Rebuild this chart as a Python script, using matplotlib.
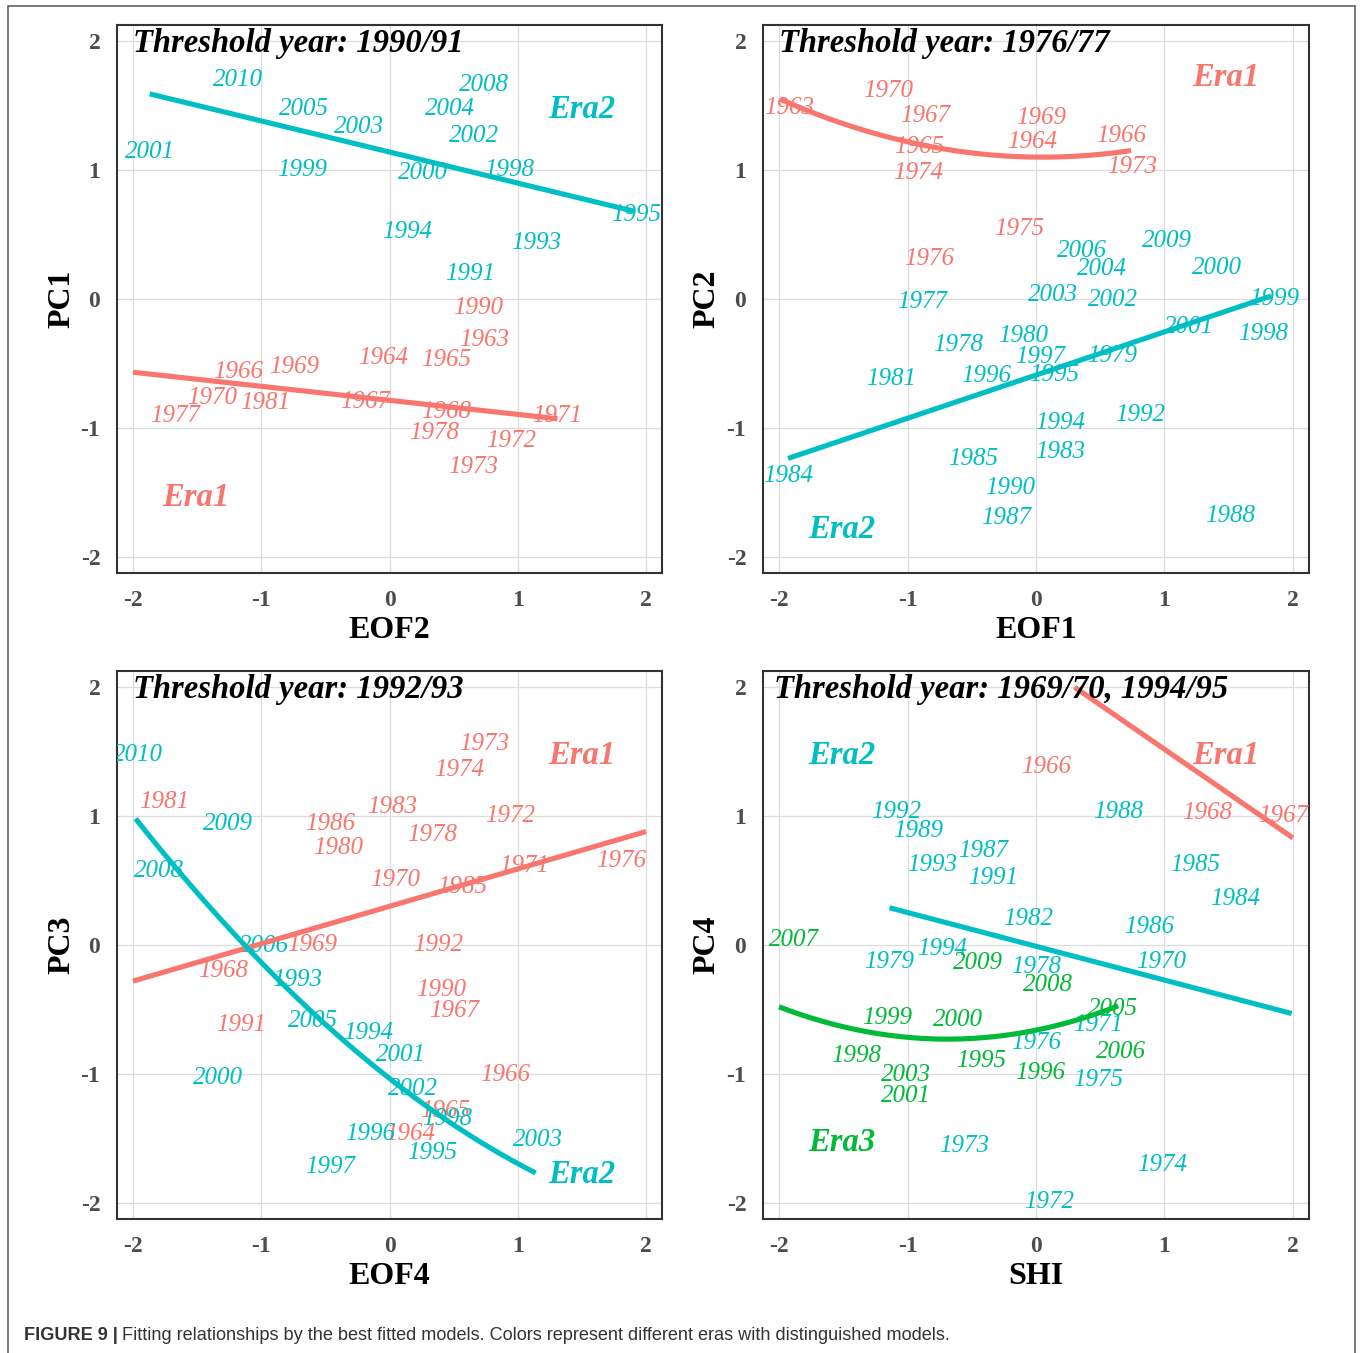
import matplotlib
matplotlib.use("Agg")
import matplotlib.pyplot as plt
import matplotlib.transforms as mtransforms
from matplotlib.patches import Rectangle
import numpy as np

plt.rcParams["axes.unicode_minus"] = False

RED, CYAN, GREEN = "#F8766D", "#00BFC4", "#00BA38"
SERIF = ["Liberation Serif", "DejaVu Serif"]
SANS = ["Liberation Sans", "DejaVu Sans"]

tick_values = [-2, -1, 0, 1, 2]
tick_labels = ["-2", "-1", "0", "1", "2"]

# ---------------- Panel 1: EOF2 vs PC1 ----------------
p1_era1_years = [1990, 1963, 1964, 1965, 1966, 1969, 1970, 1981, 1977, 1967, 1968, 1971, 1978, 1972, 1973]
p1_era1_x = [0.69, 0.74, -0.05, 0.44, -1.18, -0.74, -1.38, -0.97, -1.67, -0.19, 0.44, 1.31, 0.35, 0.95, 0.65]
p1_era1_y = [-0.05, -0.30, -0.44, -0.45, -0.55, -0.51, -0.75, -0.79, -0.89, -0.78, -0.86, -0.89, -1.02, -1.08, -1.28]
p1_era2_years = [2010, 2008, 2005, 2004, 2003, 2002, 2001, 1999, 2000, 1998, 1995, 1994, 1993, 1991]
p1_era2_x = [-1.18, 0.74, -0.67, 0.47, -0.24, 0.66, -1.87, -0.68, 0.26, 0.93, 1.92, 0.14, 1.14, 0.63]
p1_era2_y = [1.72, 1.68, 1.49, 1.49, 1.35, 1.28, 1.16, 1.02, 1.00, 1.02, 0.67, 0.54, 0.45, 0.21]
p1_fit_era1 = [0.0, -0.109, -0.786]   # quadratic, linear, constant
p1_fit_era1_range = [-2.0, 1.31]
p1_fit_era2 = [0.0, -0.241, 1.14]
p1_fit_era2_range = [-1.87, 1.91]

# ---------------- Panel 2: EOF1 vs PC2 ----------------
p2_era1_years = [1970, 1963, 1967, 1969, 1965, 1964, 1966, 1974, 1973, 1975, 1976]
p2_era1_x = [-1.15, -1.92, -0.86, 0.04, -0.91, -0.03, 0.66, -0.92, 0.75, -0.13, -0.83]
p2_era1_y = [1.63, 1.50, 1.44, 1.42, 1.20, 1.24, 1.28, 1.00, 1.04, 0.56, 0.33]
p2_era2_years = [2006, 2009, 2004, 2000, 1977, 2003, 2002, 1999, 2001, 1998, 1978, 1980, 1997,
                 1979, 1981, 1996, 1995, 1992, 1994, 1985, 1983, 1984, 1990, 1987, 1988]
p2_era2_x = [0.36, 1.02, 0.51, 1.41, -0.89, 0.13, 0.60, 1.85, 1.19, 1.77, -0.61, -0.10, 0.03,
             0.59, -1.13, -0.39, 0.14, 0.81, 0.19, -0.49, 0.19, -1.93, -0.20, -0.23, 1.51]
p2_era2_y = [0.39, 0.47, 0.25, 0.26, 0.00, 0.05, 0.01, 0.02, -0.20, -0.25, -0.34, -0.27, -0.43,
             -0.42, -0.60, -0.58, -0.57, -0.88, -0.94, -1.22, -1.17, -1.35, -1.45, -1.68, -1.66]
p2_fit_era1 = [0.108, -0.0108, 1.1003]
p2_fit_era1_range = [-1.99, 0.74]
p2_fit_era2 = [0.0, 0.335, -0.59]
p2_fit_era2_range = [-1.93, 1.83]

# ---------------- Panel 3: EOF4 vs PC3 ----------------
p3_era1_years = [1981, 1973, 1974, 1983, 1972, 1986, 1978, 1980, 1976, 1971, 1970, 1985, 1969,
                 1992, 1968, 1990, 1967, 1991, 1966, 1965, 1964]
p3_era1_x = [-1.76, 0.74, 0.54, 0.02, 0.94, -0.46, 0.33, -0.40, 1.81, 1.05, 0.04, 0.57, -0.60,
             0.38, -1.30, 0.40, 0.50, -1.16, 0.90, 0.43, 0.16]
p3_era1_y = [1.13, 1.58, 1.38, 1.09, 1.02, 0.96, 0.87, 0.77, 0.67, 0.63, 0.52, 0.47, 0.02,
             0.02, -0.18, -0.33, -0.49, -0.60, -0.99, -1.27, -1.45]
p3_era2_years = [2010, 2009, 2008, 2006, 1993, 2005, 1994, 2001, 2000, 2002, 1998, 1996, 2003, 1995, 1997]
p3_era2_x = [-1.96, -1.26, -1.80, -0.98, -0.72, -0.60, -0.17, 0.09, -1.34, 0.18, 0.45, -0.15, 1.16, 0.33, -0.46]
p3_era2_y = [1.49, 0.96, 0.59, 0.01, -0.25, -0.57, -0.66, -0.83, -1.01, -1.10, -1.33, -1.45, -1.49, -1.59, -1.70]
p3_fit_era1 = [0.0, 0.29, 0.30]
p3_fit_era1_range = [-2.0, 2.0]
p3_fit_era2 = [0.12, -0.78, -1.035]
p3_fit_era2_range = [-1.98, 1.14]

# ---------------- Panel 4: SHI vs PC4 ----------------
p4_era1_years = [1966, 1968, 1967]
p4_era1_x = [0.08, 1.33, 1.92]
p4_era1_y = [1.40, 1.04, 1.02]
p4_era2_years = [1992, 1988, 1989, 1987, 1993, 1991, 1985, 1984, 1982, 1986, 1979, 1994, 1978,
                 1970, 1971, 1976, 1975, 1973, 1974, 1972]
p4_era2_x = [-1.09, 0.64, -0.92, -0.41, -0.81, -0.33, 1.24, 1.55, -0.06, 0.88, -1.14, -0.73, 0.00,
             0.97, 0.48, 0.00, 0.48, -0.56, 0.98, 0.10]
p4_era2_y = [1.05, 1.05, 0.90, 0.75, 0.64, 0.54, 0.64, 0.38, 0.22, 0.16, -0.11, -0.01, -0.15,
             -0.11, -0.60, -0.74, -1.03, -1.54, -1.69, -1.97]
p4_era3_years = [2007, 2009, 2008, 2005, 1999, 2000, 1998, 2006, 1995, 1996, 2003, 2001]
p4_era3_x = [-1.88, -0.45, 0.09, 0.60, -1.16, -0.61, -1.40, 0.66, -0.43, 0.03, -1.01, -1.01]
p4_era3_y = [0.06, -0.12, -0.29, -0.48, -0.55, -0.56, -0.84, -0.81, -0.88, -0.97, -0.99, -1.15]
p4_fit_era1 = [0.0, -0.688, 2.206]
p4_fit_era1_range = [0.30, 2.0]
p4_fit_era2 = [0.0, -0.262, -0.01]
p4_fit_era2_range = [-1.14, 1.99]
p4_fit_era3 = [0.146, 0.2015, -0.6605]
p4_fit_era3_range = [-2.0, 0.64]

titles = ["Threshold year: 1990/91", "Threshold year: 1976/77",
          "Threshold year: 1992/93", "Threshold year: 1969/70, 1994/95"]
xlabels = ["EOF2", "EOF1", "EOF4", "SHI"]
ylabels = ["PC1", "PC2", "PC3", "PC4"]

# era labels: (text, x, y, color)
era_labels = [
    [("Era2", 1.50, 1.49, CYAN), ("Era1", -1.51, -1.52, RED)],
    [("Era1", 1.48, 1.74, RED), ("Era2", -1.51, -1.77, CYAN)],
    [("Era1", 1.50, 1.49, RED), ("Era2", 1.50, -1.76, CYAN)],
    [("Era2", -1.51, 1.49, CYAN), ("Era1", 1.48, 1.49, RED), ("Era3", -1.51, -1.51, GREEN)],
]
title_x = [-2.0, -2.0, -2.0, -2.04]

panels = [
    dict(points=[(p1_era1_years, p1_era1_x, p1_era1_y, RED), (p1_era2_years, p1_era2_x, p1_era2_y, CYAN)],
         fits=[(p1_fit_era1, p1_fit_era1_range, RED), (p1_fit_era2, p1_fit_era2_range, CYAN)]),
    dict(points=[(p2_era1_years, p2_era1_x, p2_era1_y, RED), (p2_era2_years, p2_era2_x, p2_era2_y, CYAN)],
         fits=[(p2_fit_era1, p2_fit_era1_range, RED), (p2_fit_era2, p2_fit_era2_range, CYAN)]),
    dict(points=[(p3_era1_years, p3_era1_x, p3_era1_y, RED), (p3_era2_years, p3_era2_x, p3_era2_y, CYAN)],
         fits=[(p3_fit_era1, p3_fit_era1_range, RED), (p3_fit_era2, p3_fit_era2_range, CYAN)]),
    dict(points=[(p4_era1_years, p4_era1_x, p4_era1_y, RED), (p4_era2_years, p4_era2_x, p4_era2_y, CYAN),
                 (p4_era3_years, p4_era3_x, p4_era3_y, GREEN)],
         fits=[(p4_fit_era1, p4_fit_era1_range, RED), (p4_fit_era2, p4_fit_era2_range, CYAN),
               (p4_fit_era3, p4_fit_era3_range, GREEN)]),
]

W, H = 1360, 1353
fig = plt.figure(figsize=(W / 100, H / 100), dpi=100)

# outer frame
fig.add_artist(Rectangle((8 / W, -0.01), (1355 - 8) / W, 1.01 - 6 / H, transform=fig.transFigure,
                         fill=False, edgecolor="#555555", linewidth=1.1))

boxes = [(117, 25, 662, 573), (763, 25, 1309, 573), (117, 671, 662, 1219), (763, 671, 1309, 1219)]
LIM = 2.125

for i, (l, t, r, b) in enumerate(boxes):
    ax = fig.add_axes([l / W, 1 - b / H, (r - l) / W, (b - t) / H])
    ax.set_xlim(-LIM, LIM)
    ax.set_ylim(-LIM, LIM)
    ax.set_xticks(tick_values)
    ax.set_yticks(tick_values)
    ax.set_xticklabels(tick_labels)
    ax.set_yticklabels(tick_labels)
    ax.tick_params(length=0, labelsize=17, labelcolor="#4D4D4D")
    ax.tick_params(axis="x", pad=12)
    ax.tick_params(axis="y", pad=12)
    for lab in ax.get_xticklabels() + ax.get_yticklabels():
        lab.set_family(SERIF)
        lab.set_fontweight("bold")
    ax.grid(True, color="#DCDCDC", linewidth=0.9)
    ax.set_axisbelow(True)
    for sp in ax.spines.values():
        sp.set_color("#333333")
        sp.set_linewidth(1.5)

    tr = mtransforms.offset_copy(ax.transData, fig=fig, x=0, y=-2.5, units="dots")
    p = panels[i]
    for years, xs, ys, col in p["points"]:
        for yr, x, y in zip(years, xs, ys):
            ax.text(x, y, str(yr), color=col, fontsize=18, fontstyle="italic", family=SERIF,
                    ha="center", va="center", clip_on=True, zorder=3, transform=tr)
    for coef, rng, col in p["fits"]:
        xx = np.linspace(rng[0], rng[1], 200)
        ax.plot(xx, np.polyval(coef, xx), color=col, linewidth=3.7, solid_capstyle="butt", zorder=4)
    for txt, x, y, col in era_labels[i]:
        ax.text(x, y, txt, color=col, fontsize=23.5, fontstyle="italic", fontweight="bold",
                family=SERIF, ha="center", va="center", clip_on=True, zorder=5, transform=tr)
    ax.text(title_x[i], 2.0, titles[i], color="black", fontsize=23.5, fontstyle="italic",
            fontweight="bold", family=SERIF, ha="left", va="center", clip_on=True, zorder=5,
            transform=tr)

    ax.set_xlabel(xlabels[i], family=SERIF, fontweight="bold", fontsize=23, color="black")
    ax.set_ylabel(ylabels[i], family=SERIF, fontweight="bold", fontsize=23, color="black")
    ax.xaxis.label.set_va("center")
    ax.xaxis.set_label_coords(0.5, -(630 - 573) / 548)
    ax.yaxis.label.set_va("center")
    ax.yaxis.set_label_coords(-(117 - 61.5) / 545, 0.5)

# caption
renderer = fig.canvas.get_renderer()
cy = 1 - 1335 / H
t1 = fig.text(24 / W, cy, "FIGURE 9 |", family=SANS, fontweight="bold", fontsize=13.1,
              color="#333333", va="center", ha="left")
bb = t1.get_window_extent(renderer=renderer)
fig.text((bb.x1 + 4) / W, cy, "Fitting relationships by the best fitted models. Colors represent different eras with distinguished models.",
         family=SANS, fontsize=13.1, color="#333333", va="center", ha="left")

fig.savefig("out.png", dpi=100)
